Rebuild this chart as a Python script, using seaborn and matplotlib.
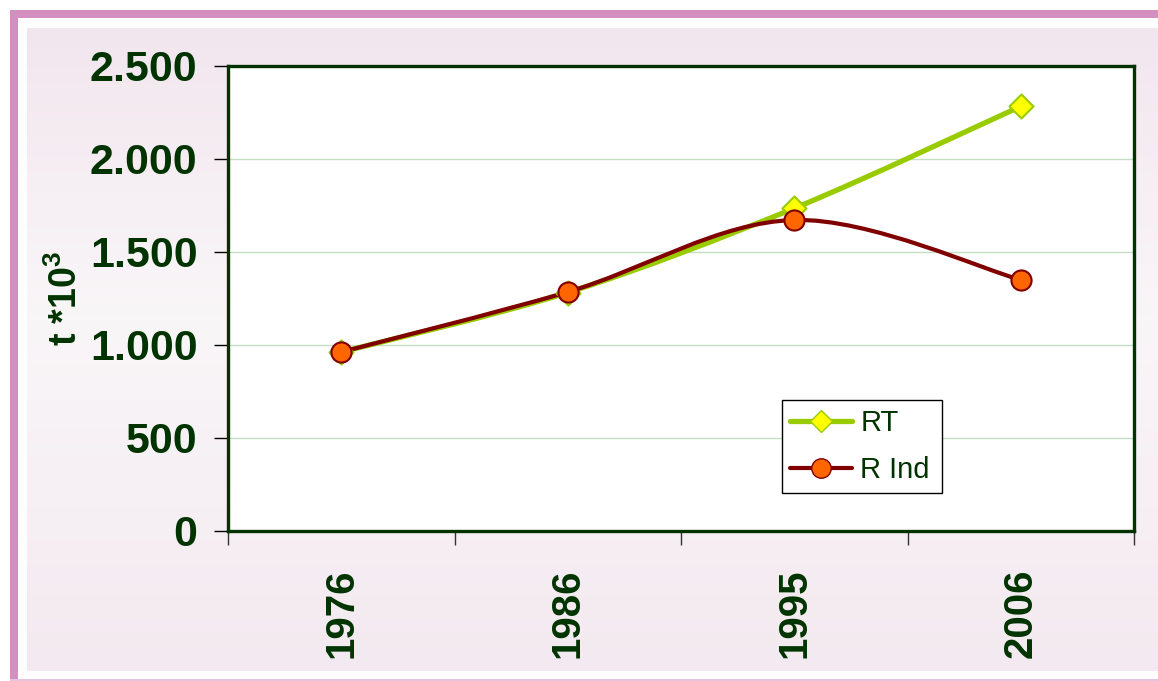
import numpy as np
import pandas as pd
import seaborn as sns
import matplotlib.pyplot as plt
from matplotlib.path import Path
from matplotlib.patches import PathPatch, Rectangle
from matplotlib.lines import Line2D
from matplotlib.colors import LinearSegmentedColormap
from matplotlib.ticker import FuncFormatter, FixedLocator

# data (t * 10^3)
years = ['1976', '1986', '1995', '2006']
rt = [962, 1282, 1735, 2283]
r_ind = [962, 1285, 1672, 1350]

green_txt = '#003300'
rt_line, rt_face = '#99cc00', '#ffff00'
ri_line, ri_face = '#800000', '#ff6600'

sns.set_style('white')
plt.rcParams['font.family'] = ['Liberation Sans', 'DejaVu Sans']
plt.rcParams['mathtext.fontset'] = 'custom'
plt.rcParams['mathtext.bf'] = 'Liberation Sans:bold'
plt.rcParams['mathtext.rm'] = 'Liberation Sans:bold'
plt.rcParams['mathtext.default'] = 'bf'


def smooth_path(xs, ys):
    """Excel style smoothed line: cubic bezier through the points"""
    pts = np.column_stack([xs, ys]).astype(float)
    n = len(pts)
    verts = [pts[0]]
    codes = [Path.MOVETO]
    for i in range(n - 1):
        p0 = pts[max(i - 1, 0)]
        p1, p2 = pts[i], pts[i + 1]
        p3 = pts[min(i + 2, n - 1)]
        c1 = p1 + (p2 - p0) / 6
        c2 = p2 - (p3 - p1) / 6
        verts += [c1, c2, p2]
        codes += [Path.CURVE4] * 3
    return Path(verts, codes)


df = pd.DataFrame({'year': years, 'RT': rt, 'R Ind': r_ind})
df['pos'] = np.arange(len(years))

fig = plt.figure(figsize=(11.58, 6.81), dpi=100)

# slide-like background with pink frame
bg = fig.add_axes([0, 0, 1, 1], zorder=-10)
bg.set_xlim(0, 1158)
bg.set_ylim(681, 0)
bg.axis('off')
bg_cmap = LinearSegmentedColormap.from_list('bgp', ['#f2e6ee', '#f9f6f8'])
bg.imshow(np.interp(np.linspace(0, 1, 200), [0, 0.45, 1], [0, 1, 0.2])[:, None],
          extent=[27, 1158, 671, 28], cmap=bg_cmap, aspect='auto', zorder=0)
bg.add_patch(Rectangle((10, 10), 1150, 8, color='#d48fc0', lw=0))
bg.add_patch(Rectangle((10, 10), 8, 672, color='#d48fc0', lw=0))
bg.add_patch(Rectangle((10, 679), 1150, 2, color='#e6c3dc', lw=0))

ax = fig.add_axes([0.1969, 0.2203, 0.7824, 0.6828])
ax.set_facecolor('white')

# smoothed lines
ax.add_patch(PathPatch(smooth_path(df['pos'], df['RT']), fill=False,
                       edgecolor=rt_line, lw=3.8, capstyle='round', zorder=3))
ax.add_patch(PathPatch(smooth_path(df['pos'], df['R Ind']), fill=False,
                       edgecolor=ri_line, lw=3.0, capstyle='round', zorder=4))

sns.scatterplot(data=df, x='pos', y='RT', marker='D', s=150, color=rt_face,
                edgecolor=rt_line, linewidth=1.5, zorder=5, ax=ax)
sns.scatterplot(data=df, x='pos', y='R Ind', marker='o', s=210, color=ri_face,
                edgecolor=ri_line, linewidth=1.5, zorder=6, ax=ax)

ax.set_xlim(-0.5, len(years) - 0.5)
ax.set_ylim(0, 2500)
ax.set_yticks(np.arange(0, 2501, 500))
ax.yaxis.set_major_formatter(FuncFormatter(lambda v, p: f'{int(v):,}'.replace(',', '.')))
ax.grid(axis='y', color='#c4dec4', lw=1)
ax.set_axisbelow(True)

ax.set_xticks(df['pos'])
ax.set_xticklabels(years, rotation=90)
ax.xaxis.set_minor_locator(FixedLocator(np.arange(-0.5, len(years), 1)))
ax.tick_params(axis='x', which='major', length=0, pad=27, labelsize=29,
               labelcolor=green_txt)
ax.tick_params(axis='x', which='minor', length=10, width=1, color='#333333',
               direction='out', bottom=True)
ax.tick_params(axis='y', length=10, width=1, color='black', direction='out',
               left=True, pad=12, labelsize=31, labelcolor=green_txt)
for lab in ax.get_xticklabels() + ax.get_yticklabels():
    lab.set_fontweight('bold')

for sp in ax.spines.values():
    sp.set_color(green_txt)
    sp.set_linewidth(2.4)

ax.set_xlabel('')
ax.set_ylabel('t *10$^{3}$', fontsize=27, fontweight='bold', color=green_txt)
ax.yaxis.set_label_coords(-0.158, 0.5)

handles = [
    Line2D([], [], color=rt_line, lw=3.8, marker='D', markersize=11,
           markerfacecolor=rt_face, markeredgecolor=rt_line),
    Line2D([], [], color=ri_line, lw=3.0, marker='o', markersize=14,
           markerfacecolor=ri_face, markeredgecolor=ri_line),
]
leg = ax.legend(handles, ['RT', 'R Ind'], loc='lower left',
                bbox_to_anchor=(0.611, 0.082, 0.177, 0.208), mode='expand',
                fontsize=21, frameon=True, fancybox=False, framealpha=1,
                edgecolor='black', handlelength=2.1, borderpad=0.3,
                labelspacing=0.65, handletextpad=0.3, borderaxespad=0)
leg.get_frame().set_linewidth(1)
for t in leg.get_texts():
    t.set_color(green_txt)

fig.savefig('out.png', dpi=100)
